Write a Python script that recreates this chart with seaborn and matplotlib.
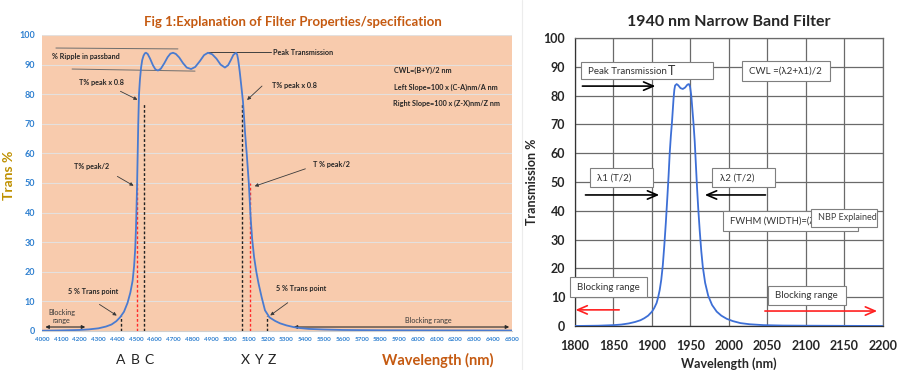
import pandas as pd
import matplotlib.pyplot as plt
import seaborn as sns
from matplotlib.patches import Rectangle
from matplotlib.lines import Line2D

sns.set_style("white")
plt.rcParams["font.family"] = ["Lato", "DejaVu Sans"]

# ------------------------
# DATA
# ------------------------
# left: generic band-pass filter curve
wl_left = [4000, 4100, 4200, 4250, 4300, 4340, 4370, 4395, 4415, 4436, 4455, 4470,
           4482, 4490, 4496, 4500, 4503, 4506, 4509, 4512, 4516, 4521, 4527, 4533,
           4540, 4547, 4553, 4562, 4575, 4590, 4603, 4617, 4632, 4650, 4668, 4683,
           4697, 4712, 4730, 4750, 4770, 4793, 4815, 4840, 4862, 4883, 4905, 4928,
           4950, 4973, 4990, 5005, 5018, 5032, 5038, 5043, 5047, 5052, 5058, 5064,
           5069, 5075, 5080, 5085, 5090, 5095, 5100, 5105, 5110, 5118, 5128, 5140,
           5152, 5168, 5186, 5210, 5240, 5266, 5300, 5340, 5372, 5420, 5500, 5600,
           5800, 6100, 6500]
tr_left = [0.1, 0.2, 0.35, 0.55, 0.9, 1.5, 2.2, 3.3, 4.6, 6.5, 9.5, 13,
           17, 22, 28, 35, 42, 50, 60, 70, 80, 85, 89, 91.5,
           93, 93.8, 94, 93.6, 92, 89.8, 88.4, 88, 88.6, 90.4, 92.5, 93.7,
           94, 93.6, 92.4, 90.5, 89, 88.5, 89.2, 91.2, 93.2, 94, 93.5, 92,
           90, 89, 89.8, 91.6, 93.3, 94, 93.4, 91.8, 90, 87.5, 84, 80.5,
           77.5, 72, 67, 63, 59, 54.5, 50, 44, 38, 31, 25, 20,
           16, 11.5, 7, 4.6, 3.4, 2.6, 1.9, 1.3, 1, 0.7, 0.5, 0.35,
           0.25, 0.2, 0.15]

# left: marker wavelengths A B C / X Y Z and their heights
mark_names = ["A", "B", "C", "X", "Y", "Z"]
mark_wl = [4420, 4505, 4545, 5065, 5108, 5195]
mark_top = [5, 50, 77, 77, 50, 5]
mark_red = [False, True, False, False, True, False]
mark_label_x = [4420, 4495, 4569, 5080, 5149, 5223]

# right: 1940 nm narrow band filter
wl_right = [1800, 1830, 1850, 1860, 1870, 1878, 1885, 1890, 1895, 1900, 1903, 1906,
            1908, 1910, 1912, 1914, 1916, 1918, 1920, 1921.5, 1923, 1924.5, 1926, 1927,
            1928, 1929, 1930, 1932, 1934, 1937, 1940, 1943, 1946, 1948, 1949.5, 1951,
            1952.5, 1954, 1955.5, 1957, 1958.5, 1960, 1962, 1964, 1966, 1969, 1973, 1978,
            1984, 1990, 1997, 2005, 2015, 2027, 2045, 2070, 2100, 2200]
tr_right = [0, 0.1, 0.3, 0.5, 0.9, 1.4, 2, 2.7, 3.6, 5, 6.3, 8,
            10, 12.5, 16, 21, 28, 36, 45, 52, 60, 66, 71, 75,
            79, 82, 83.5, 84, 83.6, 82.6, 82.3, 82.8, 83.8, 84, 83, 80,
            75, 70, 64, 56, 48, 41, 33, 26, 20.5, 15, 10.5, 7.3,
            5, 3.6, 2.5, 1.7, 1.0, 0.6, 0.3, 0.15, 0.1, 0]

df_left = pd.DataFrame({"wl": wl_left, "T": tr_left})
df_right = pd.DataFrame({"wl": wl_right, "T": tr_right})

fig = plt.figure(figsize=(9, 3.7), dpi=100)

# ------------------------
# LEFT PANEL
# ------------------------
ax1 = fig.add_axes([42 / 900, 1 - 331 / 370, 470 / 900, 296 / 370])
ax1.set_facecolor("#F8CBAD")
sns.lineplot(data=df_left, x="wl", y="T", ax=ax1, color="#4A7BD0", lw=1.3, zorder=5)
ax1.set_xlim(4000, 6500)
ax1.set_ylim(0, 100)
ax1.set_xticks(range(4000, 6501, 100))
ax1.set_yticks(range(0, 101, 10))
ax1.yaxis.grid(True, color="#E4E0DE", lw=0.8)
ax1.xaxis.grid(False)
ax1.set_axisbelow(True)
for s in ["top", "right", "left"]:
    ax1.spines[s].set_visible(False)
ax1.spines["bottom"].set_color("#D0D0D0")
ax1.tick_params(axis="x", length=0, pad=4, labelsize=4.6, labelcolor="#2F80D0")
ax1.tick_params(axis="y", length=0, pad=5, labelsize=6.5, labelcolor="#2F80D0")
for lab in ax1.get_xticklabels() + ax1.get_yticklabels():
    lab.set_fontweight("bold")
ax1.set_xlabel("")
ax1.set_ylabel("")

fig.text(293 / 900, 1 - 22 / 370, "Fig 1:Explanation of Filter Properties/specification",
         ha="center", va="center", fontsize=9.5, fontweight="bold", color="#C55A11")
fig.text(9 / 900, 1 - 175 / 370, "Trans %", rotation=90, ha="center", va="center",
         fontsize=10, fontweight="bold", color="#BF9000")
fig.text(438 / 900, 1 - 360 / 370, "Wavelength (nm)", ha="center", va="center",
         fontsize=10.5, fontweight="bold", color="#C55A11")

# dashed markers
for w, top, red in zip(mark_wl, mark_top, mark_red):
    ax1.plot([w, w], [0, top], ls=(0, (2, 1.5)), lw=1.0,
             color="#FF2A2A" if red else "#222222", zorder=4)
for name, lx in zip(mark_names, mark_label_x):
    ax1.text(lx, -0.098, name, transform=ax1.get_xaxis_transform(),
             ha="center", va="center", fontsize=10, color="#222222")

txt = dict(fontsize=5.2, fontweight="bold", color="#262626", va="center")
arr = dict(arrowstyle="-|>", color="#3A3A3A", lw=0.6, mutation_scale=5)

# ripple
ax1.text(4053, 92.6, "% Ripple in passband", **txt)
ax1.plot([4074, 4723], [95.6, 95.3], color="#6E6E6E", lw=0.7)
ax1.plot([4160, 4814], [88.5, 87.8], color="#6E6E6E", lw=0.7)

# peak transmission
ax1.plot([4883, 5218], [94.2, 94.2], color="#404040", lw=0.7)
ax1.text(5229, 94.2, "Peak Transmission", **txt)

# 80 % points
ax1.text(4197, 84.1, "T% peak x 0.8", **txt)
ax1.annotate("", xy=(4521, 77.7), xytext=(4404, 81.4), arrowprops=arr)
ax1.text(5223, 82.8, "T% peak x 0.8", **txt)
ax1.annotate("", xy=(5080, 77.4), xytext=(5181, 83.4), arrowprops=arr)

# 50 % points
ax1.text(4170, 55.7, "T% peak/2", **txt)
ax1.annotate("", xy=(4500, 48.6), xytext=(4388, 52.7), arrowprops=arr)
ax1.text(5441, 56.1, "T % peak/2", **txt)
ax1.annotate("", xy=(5117, 48.6), xytext=(5415, 55.1), arrowprops=arr)

# formulas
ax1.text(5872, 88.2, "CWL=(B+Y)/2 nm", **txt)
ax1.text(5872, 82.4, "Left Slope=100 x (C-A)nm/A nm", **txt)
ax1.text(5867, 77.0, "Right Slope=100 x (Z-X)nm/Z nm", **txt)

# 5 % points
ax1.text(4138, 13.2, "5 % Trans point", **txt)
ax1.annotate("", xy=(4410, 4.7), xytext=(4293, 9.5), arrowprops=arr)
ax1.text(5245, 14.2, "5 % Trans point", **txt)
ax1.annotate("", xy=(5202, 4.7), xytext=(5319, 10.1), arrowprops=arr)

# blocking ranges
ax1.text(4106, 4.9, "Blocking\nrange", ha="center", va="center", fontsize=5.2,
         color="#3A3A3A", linespacing=1.3)
dbl = dict(arrowstyle="<|-|>", color="#2A2A2A", lw=0.8, mutation_scale=5)
ax1.annotate("", xy=(4245, 1.35), xytext=(4003, 1.35), arrowprops=dbl)
ax1.text(5931, 3.7, "Blocking range", ha="left", va="center", fontsize=5.2, color="#3A3A3A")
ax1.annotate("", xy=(6500, 1.35), xytext=(5324, 1.35), arrowprops=dbl,
             annotation_clip=False)

# faint separator between the two pictures
fig.add_artist(Line2D([522 / 900, 522 / 900], [0, 1], color="#ECECEC", lw=0.8))

# ------------------------
# RIGHT PANEL
# ------------------------
ax2 = fig.add_axes([575 / 900, 1 - 326 / 370, 308 / 900, 288 / 370])
sns.lineplot(data=df_right, x="wl", y="T", ax=ax2, color="#3D6FD6", lw=1.3, zorder=3)
ax2.set_xlim(1800, 2200)
ax2.set_ylim(0, 100)
ax2.set_xticks(range(1800, 2201, 50))
ax2.set_yticks(range(0, 101, 10))
ax2.set_xticks(range(1800, 2201, 10), minor=True)
ax2.set_yticks(range(0, 101, 2), minor=True)
ax2.grid(True, which="major", color="#6A6A6A", lw=0.9)
ax2.set_axisbelow(True)
for s in ax2.spines.values():
    s.set_color("#6A6A6A")
    s.set_linewidth(0.9)
ax2.spines["left"].set_color("#333333")
ax2.spines["bottom"].set_color("#333333")
ax2.tick_params(axis="both", which="major", direction="out", length=4, width=0.8,
                color="#555555", labelsize=9, pad=3)
ax2.tick_params(axis="both", which="minor", direction="out", length=2.5, width=0.6,
                color="#555555")
ax2.tick_params(axis="x", which="major", pad=6)
for lab in ax2.get_xticklabels() + ax2.get_yticklabels():
    lab.set_fontweight("bold")
ax2.set_xlabel("Wavelength (nm)", fontsize=9, fontweight="bold", labelpad=4)
ax2.set_ylabel("Transmission %", fontsize=9, fontweight="bold", labelpad=4)
ax2.set_title("1940 nm Narrow Band Filter", fontsize=11.5, fontweight="bold", pad=9)


def box(x0, x1, y0, y1, z=6):
    ax2.add_patch(Rectangle((x0, y0), x1 - x0, y1 - y0, facecolor="white",
                            edgecolor="#7F7F7F", lw=0.8, zorder=z, clip_on=False))


btxt = dict(fontsize=7, color="#333333", va="center", ha="left", zorder=8)

box(1808, 1979, 85.8, 91.7)
ax2.text(1817, 88.2, "Peak Transmission", **btxt)
ax2.text(1920, 88.6, "T", fontsize=9, color="#333333", va="center", zorder=8)
box(2017, 2131, 85.1, 92.0)
ax2.text(2026, 88.5, "CWL =(λ2+λ1)/2", **btxt)
box(1819, 1901, 48.3, 54.9)
ax2.text(1829, 51.4, "λ1 (T/2)", **btxt)
box(1978, 2060, 48.3, 54.9)
ax2.text(1988, 51.4, "λ2 (T/2)", **btxt)
box(1992, 2168, 33.0, 39.9)
ax2.text(2001, 36.4, "FWHM (WIDTH)=(λ", fontsize=6.8, color="#333333",
         va="center", zorder=7)
box(2106, 2192, 34.4, 40.6, z=9)
ax2.text(2116, 37.5, "NBP Explained", fontsize=6.5, color="#404040", va="center", zorder=10)
box(1794, 1894, 10.1, 17.0)
ax2.text(1803, 13.5, "Blocking range", **btxt)
box(2051, 2152, 7.3, 13.9)
ax2.text(2060, 10.5, "Blocking range", **btxt)

big = dict(arrowstyle="->,head_length=0.7,head_width=0.3", color="black", lw=1.2)
ax2.annotate("", xy=(1908, 83.3), xytext=(1806, 83.3), arrowprops=big)
ax2.annotate("", xy=(1913, 45.5), xytext=(1810, 45.5), arrowprops=big)
ax2.annotate("", xy=(1965, 45.5), xytext=(2051, 45.5), arrowprops=big)
red = dict(arrowstyle="->,head_length=0.7,head_width=0.3", color="#FF2020", lw=1.2)
ax2.annotate("", xy=(1797, 5.6), xytext=(1861, 5.6), arrowprops=red,
             annotation_clip=False)
ax2.annotate("", xy=(2196, 5.2), xytext=(2043, 5.2), arrowprops=red,
             annotation_clip=False)

fig.savefig("out.png", dpi=100)
